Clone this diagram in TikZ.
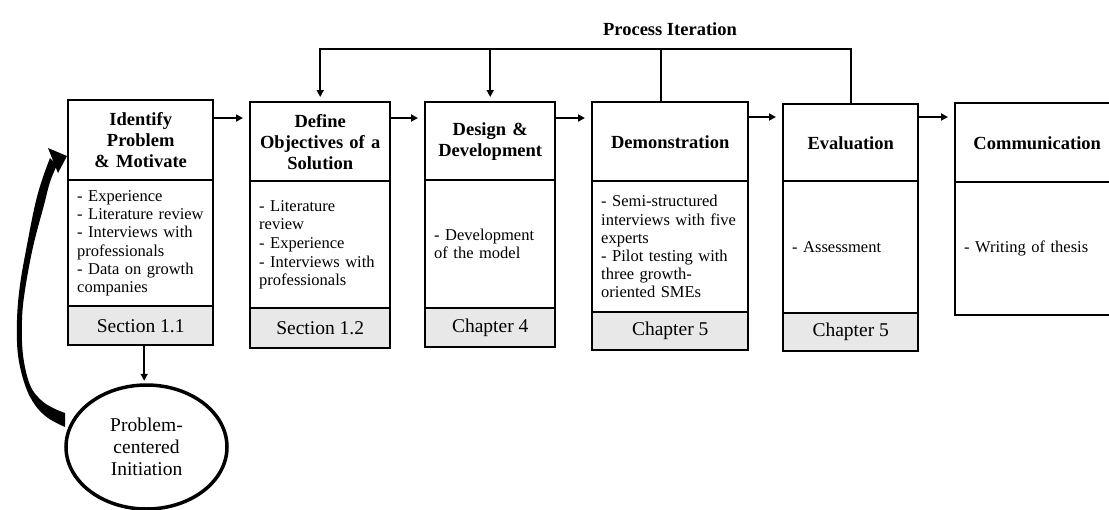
\documentclass[tikz,border=0pt]{standalone}
\usepackage{fontspec}
\setmainfont{Liberation Serif}
\usetikzlibrary{arrows.meta,shapes.geometric,calc}

\begin{document}
\begin{tikzpicture}[x=1pt,y=-1pt,
  box/.style={draw, line width=2.4pt, anchor=north west, inner ysep=0pt},
  headbox/.style={box, inner xsep=4pt, align=center,
    font=\fontsize{18.5}{21}\selectfont\bfseries},
  bodybox/.style={box, inner xsep=9pt, align=left,
    font=\fontsize{16.5}{18.2}\selectfont},
  footbox/.style={box, fill=gray!18, inner xsep=0pt,
    font=\fontsize{19.5}{22}\selectfont},
  flow/.style={line width=1.8pt, -{Triangle[length=7pt,width=7pt]}, shorten >=6pt},
  link/.style={line width=1.8pt, line cap=rect},
]
\useasboundingbox (0,0) rectangle (1109,509);

% ---- stage 1: identify problem
\node[headbox, minimum width=145pt, minimum height=80pt, text width=137pt] (h1) at (67,99)
  {Identify\\Problem\\\& Motivate};
\node[bodybox, minimum height=126pt, text width=127pt] (b1) at (67,179)
  {- Experience\\- Literature review\\- Interviews with\\professionals\\- Data on growth\\companies};
\node[footbox, minimum width=145pt, minimum height=39pt] (f1) at (67,305) {Section 1.1};

% ---- stage 2: objectives
\node[headbox, minimum width=140pt, minimum height=79pt, text width=132pt] (h2) at (249,101)
  {Define\\Objectives of a\\Solution};
\node[bodybox, minimum height=127pt, text width=122pt] (b2) at (249,180)
  {- Literature\\review\\[1pt]- Experience\\[1pt]- Interviews with\\professionals};
\node[footbox, minimum width=140pt, minimum height=40pt] (f2) at (249,307) {Section 1.2};

% ---- stage 3: design
\node[headbox, minimum width=130pt, minimum height=78pt, text width=122pt] (h3) at (424,101)
  {Design \&\\Development};
\node[bodybox, minimum height=128pt, text width=112pt] (b3) at (424,179)
  {- Development\\of the model};
\node[footbox, minimum width=130pt, minimum height=39pt] (f3) at (424,307) {Chapter 4};

% ---- stage 4: demonstration
\node[headbox, minimum width=156pt, minimum height=79pt, text width=148pt] (h4) at (591,101)
  {Demonstration};
\node[bodybox, minimum height=131pt, text width=138pt] (b4) at (591,180)
  {- Semi-structured\\interviews with five\\experts\\- Pilot testing with\\three growth-\\oriented SMEs};
\node[footbox, minimum width=156pt, minimum height=38pt] (f4) at (591,311) {Chapter 5};

% ---- stage 5: evaluation
\node[headbox, minimum width=135pt, minimum height=77pt, text width=127pt] (h5) at (782,103)
  {Evaluation};
\node[bodybox, minimum height=132pt, text width=117pt] (b5) at (782,180)
  {- Assessment};
\node[footbox, minimum width=135pt, minimum height=38pt] (f5) at (782,312) {Chapter 5};

% ---- stage 6: communication (runs off the right edge of the page)
\node[headbox, minimum width=178pt, minimum height=79pt, text width=150pt] (h6) at (954,102)
  {Communication\hspace{14pt}\mbox{}};
\node[bodybox, minimum height=133pt, text width=160pt] (b6) at (954,181)
  {- Writing of thesis};

% ---- flow between stages
\coordinate (ra) at (0,118);
\coordinate (rb) at (0,117);
\draw[flow] (h1.east |- ra) -- (h2.west |- ra);
\draw[flow] (h2.east |- ra) -- (h3.west |- ra);
\draw[flow] (h3.east |- ra) -- (h4.west |- ra);
\draw[flow] (h4.east |- rb) -- (h5.west |- rb);
\draw[flow] (h5.east |- rb) -- (h6.west |- rb);

% ---- process iteration loop
\coordinate (pit) at (0,49);
\draw[link] (h2.north |- pit) -- (h5.north |- pit) -- (h5.north);
\draw[link, line cap=butt] ([xshift=-9pt]h4.north) -- ([xshift=-9pt]h4.north |- pit);
\draw[flow, line cap=butt, shorten >=4pt] (h2.north |- pit) -- (h2.north);
\draw[flow, line cap=butt, shorten >=4pt] (h3.north |- pit) -- (h3.north);
\node[font=\fontsize{18.5}{21}\selectfont\bfseries] (pil) at (670,29) {Process Iteration};

% ---- entry point
\node[ellipse, draw, line width=3.5pt, minimum width=161pt, minimum height=124pt,
  align=center, font=\fontsize{19.5}{22}\selectfont] (pci) at (146.5,447)
  {Problem-\\centered\\Initiation};
\draw[flow, shorten >=2.5pt] ([xshift=3.5pt]f1.south) -- ([xshift=3.5pt]f1.south |- pci.north);

% curved block arrow from the initiation back to the first stage
\fill plot[smooth, tension=0.6] coordinates {(65,427) (48,418) (35,405) (25,385) (18,355)
    (17,320) (20,285) (27,245) (35,205) (42,180) (50,158)}
  -- plot[smooth, tension=0.6] coordinates {(57,165) (50,182) (44,205) (33,247) (25,290)
    (22,320) (23,355) (30,385) (41,400) (53,408) (65,413)}
  -- cycle;
\fill (48,148) -- (67,156) -- (58,173) -- cycle;
\end{tikzpicture}
\end{document}
